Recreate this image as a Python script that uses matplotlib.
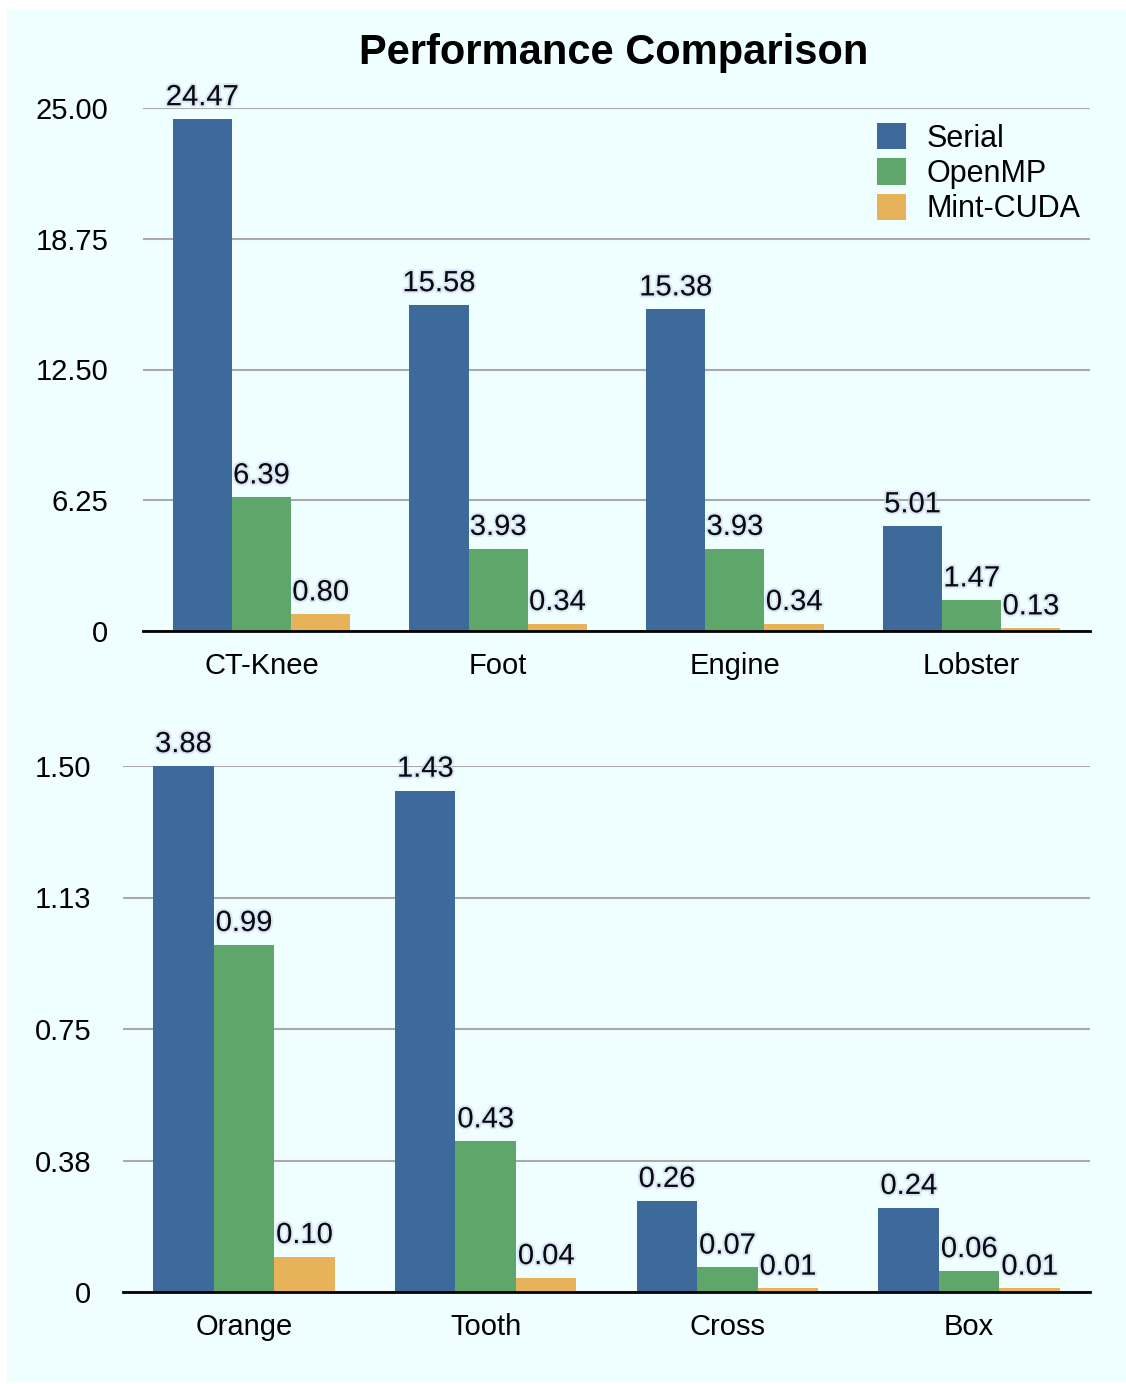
import matplotlib.pyplot as plt
import matplotlib.patheffects as pe
from matplotlib.patches import Rectangle
import numpy as np

plt.rcParams['font.family'] = ['Liberation Sans', 'DejaVu Sans']

series = ['Serial', 'OpenMP', 'Mint-CUDA']
colors = ['#3d6a9a', '#5fa66a', '#e6b25a']

top_cats = ['CT-Knee', 'Foot', 'Engine', 'Lobster']
top_serial = [24.47, 15.58, 15.38, 5.01]
top_openmp = [6.39, 3.93, 3.93, 1.47]
top_cuda = [0.80, 0.34, 0.34, 0.13]
top_ticks = [0, 6.25, 12.5, 18.75, 25.0]
top_ticklabels = ['0', '6.25', '12.50', '18.75', '25.00']

bot_cats = ['Orange', 'Tooth', 'Cross', 'Box']
bot_serial = [3.88, 1.43, 0.26, 0.24]
bot_openmp = [0.99, 0.43, 0.07, 0.06]
bot_cuda = [0.10, 0.04, 0.01, 0.01]
bot_ticks = [0, 0.375, 0.75, 1.125, 1.5]
bot_ticklabels = ['0', '0.38', '0.75', '1.13', '1.50']

W, H = 1126, 1384
fig = plt.figure(figsize=(W / 100, H / 100), dpi=100, facecolor='white')
bg = '#effefe'
fig.patches.append(Rectangle((7 / W, 2 / H), 1 - 7 / W, 1 - 12 / H,
                             transform=fig.transFigure, facecolor=bg,
                             edgecolor='none', zorder=-10))


def px_box(left, top, right, bottom):
    return [left / W, 1 - bottom / H, (right - left) / W, (bottom - top) / H]


glow = [pe.withStroke(linewidth=3, foreground='#c9d6f5', alpha=0.6)]


def draw_panel(ax, cats, vals, ticks, ticklabels, ymax, ypad):
    x = np.arange(len(cats))
    width = 0.25
    ax.set_facecolor('none')
    for i, (v, c) in enumerate(zip(vals, colors)):
        pos = x + (i - 1) * width
        ax.bar(pos, v, width, color=c, zorder=3, label=series[i])
        for p, val in zip(pos, v):
            ax.annotate('%.2f' % val, (p, min(val, ymax)), xytext=(0, 10),
                        textcoords='offset points', ha='center',
                        va='baseline', fontsize=21, color='#0a0a0a',
                        zorder=5, annotation_clip=False, path_effects=glow)
    ax.set_ylim(0, ymax)
    ax.set_xlim(-0.5, len(cats) - 0.5)
    ax.set_yticks(ticks)
    ax.set_yticklabels(ticklabels, fontsize=21)
    ax.set_xticks(x)
    ax.set_xticklabels(cats, fontsize=21)
    ax.tick_params(axis='both', length=0)
    ax.tick_params(axis='y', pad=ypad)
    ax.tick_params(axis='x', pad=15)
    ax.grid(axis='y', color='#aaaaaa', linewidth=1.5, zorder=0)
    for s in ['top', 'right', 'left']:
        ax.spines[s].set_visible(False)
    ax.spines['bottom'].set_linewidth(2)
    ax.spines['bottom'].set_zorder(4)


ax1 = fig.add_axes(px_box(143, 108, 1090, 631))
draw_panel(ax1, top_cats, [top_serial, top_openmp, top_cuda],
           top_ticks, top_ticklabels, 25.0, 25)

ax2 = fig.add_axes(px_box(123, 766, 1090, 1292))
draw_panel(ax2, bot_cats, [bot_serial, bot_openmp, bot_cuda],
           bot_ticks, bot_ticklabels, 1.5, 23)

fig.text(614 / W, 1 - 53 / H, 'Performance Comparison', ha='center',
         va='center', fontsize=30, fontweight='bold')

ax1.legend(loc='upper left', bbox_to_anchor=(877 / W, 1 - 123 / H),
           bbox_transform=fig.transFigure, frameon=False, fontsize=22,
           handlelength=0.95, handleheight=0.95, handletextpad=0.68,
           labelspacing=0.15, borderpad=0, borderaxespad=0)

fig.savefig('out.png', dpi=100, facecolor=fig.get_facecolor())
